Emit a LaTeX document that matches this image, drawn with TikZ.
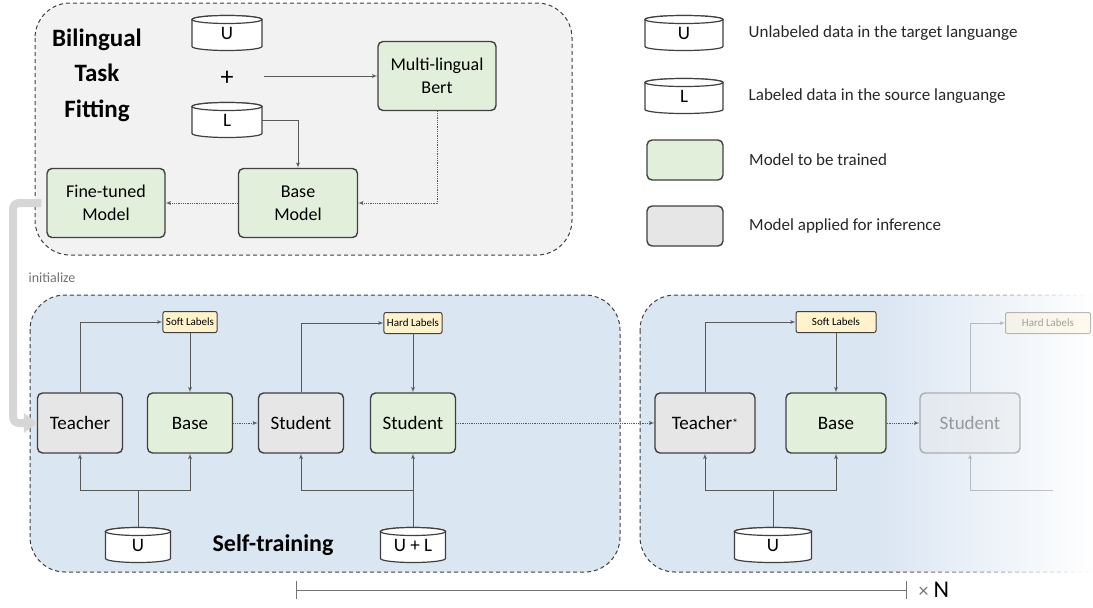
\documentclass[tikz,border=0pt]{standalone}
\usepackage{fontspec}
\setmainfont{Carlito}
\usetikzlibrary{arrows, arrows.meta, fadings, positioning}

\definecolor{bordergray}{HTML}{404040}
\definecolor{conngray}{HTML}{595959}
\definecolor{panelgray}{HTML}{F2F2F2}
\definecolor{panelblue}{HTML}{DBE6F3}
\definecolor{modelgreen}{HTML}{E2EFDA}
\definecolor{modelgray}{HTML}{E6E6E6}
\definecolor{labelyellow}{HTML}{FFF2CC}
\definecolor{initgray}{HTML}{D6D6D6}

\tikzfading[name=fade right, left color=transparent!100, right color=transparent!0]

\tikzset{
  panel/.style={draw=bordergray, dash pattern=on 4pt off 3pt, line width=1pt, rounded corners=35pt},
  model/.style={draw=bordergray, line width=1.4pt, rounded corners=5pt, align=center,
    font=\fontsize{19}{23}\selectfont},
  trained/.style={model, fill=modelgreen},
  applied/.style={model, fill=modelgray},
  dbline/.style={draw=bordergray, fill=white, line width=1.2pt},
  dbtext/.style={inner sep=0pt, minimum height=35pt, font=\fontsize{19}{23}\selectfont},
  labelbox/.style={draw=bordergray, fill=labelyellow, line width=1pt, rounded corners=2pt,
    font=\fontsize{11}{13}\selectfont, inner sep=3pt, minimum height=21pt},
  legendtext/.style={font=\fontsize{17}{20}\selectfont, text=black!85},
  conn/.style={draw=conngray, line width=0.8pt, -latex'},
  dotconn/.style={conn, densely dotted},
  faded/.style={opacity=0.35}
}

% data cylinder: name, centre, half width, text
\newcommand{\dbcylinder}[4]{%
  \draw[dbline] ([shift={(-#3,-13.5)}]#2) -- ([shift={(-#3,13.5)}]#2)
    arc[start angle=180, end angle=360, x radius=#3pt, y radius=4pt]
    -- ([shift={(#3,-13.5)}]#2)
    arc[start angle=0, end angle=180, x radius=#3pt, y radius=4pt] -- cycle;
  \draw[dbline] ([shift={(0,-13.5)}]#2) ellipse[x radius=#3pt, y radius=4pt];
  \node[dbtext, minimum width=2*#3pt] (#1) at (#2) {\raisebox{-3pt}{#4}};
}

\begin{document}
\begin{tikzpicture}[x=1pt, y=-1pt]
\useasboundingbox (0,0) rectangle (1093,608);
\clip (0,0) rectangle (1093,608);

% panels
\draw[panel, fill=panelgray] (35,3) rectangle (572,255);
\draw[panel, fill=panelblue] (30,295) rectangle (620,572);
\draw[panel, fill=panelblue] (640,295) rectangle (1150,572);
\fill[white, path fading=fade right] (880,285) rectangle (1093,580);

% bilingual task fitting
\node[font=\bfseries\fontsize{25}{35.5}\selectfont, align=center] (bititle) at (97,75) {Bilingual\\Task\\Fitting};
\dbcylinder{u1}{227,33}{35}{U}
\node[font=\fontsize{26}{26}\selectfont] (plus) at (227,78) {+};
\dbcylinder{l1}{227,120}{35}{L}
\node[trained, minimum width=118pt, minimum height=69pt, font=\fontsize{18}{23}\selectfont] (bert) at (437,76) {Multi-lingual\\Bert};
\node[trained, minimum width=119pt, minimum height=69pt, font=\fontsize{18}{23}\selectfont] (base1) at (298,203) {Base\\Model};
\node[trained, minimum width=118pt, minimum height=69pt, font=\fontsize{18}{23}\selectfont] (ft) at (106,203) {Fine-tuned\\Model};

\draw[conn] ([xshift=2pt]u1.east |- bert.west) -- (bert.west);
\draw[conn] (l1.east) -| (base1.north);
\draw[dotconn] (bert.south) |- (base1.east);
\draw[dotconn] (base1.west) -- (ft.east);

% legend
\dbcylinder{lgu}{684,33}{39}{U}
\node[legendtext, right=22pt of lgu] (lgutext) {Unlabeled data in the target languange};
\dbcylinder{lgl}{684,96}{39}{L}
\node[legendtext, right=22pt of lgl] (lgltext) {Labeled data in the source languange};
\node[trained, minimum width=76pt, minimum height=40pt] (lgtrain) at (685,160) {};
\node[legendtext, right=22pt of lgtrain] (lgtraintext) {Model to be trained};
\node[applied, minimum width=76pt, minimum height=40pt] (lginfer) at (685,226) {};
\node[legendtext, right=22pt of lginfer] (lginfertext) {Model applied for inference};

% self-training
\node[applied, minimum width=85pt, minimum height=60pt] (teach1) at (80,423) {Teacher};
\node[trained, minimum width=85pt, minimum height=60pt] (base2) at (190,423) {Base};
\node[applied, minimum width=85pt, minimum height=60pt] (stud1) at (301,423) {Student};
\node[trained, minimum width=85pt, minimum height=60pt] (stud2) at (413,423) {Student};
\node[labelbox] (soft1) at (190,322) {Soft Labels};
\node[labelbox] (hard1) at (413,323) {Hard Labels};
\dbcylinder{u2}{138,545}{32.5}{U}
\dbcylinder{ul}{413,545}{32.5}{U + L}
\node[font=\bfseries\fontsize{24}{24}\selectfont] (sttitle) at (273,545) {Self-training};
\coordinate (ujoin) at (138,490);
\coordinate (uljoin) at (413,490);

\draw[conn] (teach1.north) |- (soft1.west);
\draw[conn] (soft1.south) -- (base2.north);
\draw[dotconn] (base2.east) -- (stud1.west);
\draw[conn] (stud1.north) |- (hard1.west);
\draw[conn] (hard1.south) -- (stud2.north);
\draw[conn] (u2.north) -- (ujoin) -| (teach1.south);
\draw[conn] (ujoin) -| (base2.south);
\draw[conn] (ul.north) -- (stud2.south);
\draw[conn] (uljoin) -| (stud1.south);

% next round
\node[applied, minimum width=100pt, minimum height=60pt] (teach2) at (705,423) {Teacher\raisebox{2pt}{\fontsize{12}{12}\selectfont*}};
\node[trained, minimum width=100pt, minimum height=60pt] (base3) at (836,423) {Base};
\node[labelbox, minimum width=80pt] (soft2) at (836,322) {Soft Labels};
\dbcylinder{u3}{773,545}{38.5}{U}
\coordinate (u3join) at (773,490);
\node[applied, faded, minimum width=100pt, minimum height=60pt] (stud3) at (970,423) {Student};
\node[labelbox, faded, minimum width=85pt] (hard2) at (1048,323) {Hard Labels};
\coordinate (fadein) at (1053,490);

\draw[dotconn] (stud2.east) -- (teach2.west);
\draw[conn] (teach2.north) |- (soft2.west);
\draw[conn] (soft2.south) -- (base3.north);
\draw[dotconn] (base3.east) -- (stud3.west);
\draw[conn] (u3.north) -- (u3join) -| (teach2.south);
\draw[conn] (u3join) -| (base3.south);
\draw[conn, faded] (stud3.north) |- (hard2.west);
\draw[conn, faded] (fadein) -| (stud3.south);

% initialize
\coordinate (initbend) at (13,300);
\draw[initgray, line width=8pt, rounded corners=6pt]
  ([xshift=-5pt]ft.west) -| (initbend) |- ([xshift=-11pt]teach1.west);
\fill[initgray] ([xshift=-13pt, yshift=-10pt]teach1.west) -- ([xshift=0.5pt]teach1.west)
  -- ([xshift=-13pt, yshift=10pt]teach1.west) -- cycle;
\node[text=black!55, font=\fontsize{14}{14}\selectfont] (initlabel) at (52,278) {initialize};

% repeat
\coordinate (nstart) at (296,590);
\coordinate (nend) at (907,590);
\draw[black!55, line width=0.8pt, {Bar[width=18pt]}-{Bar[width=18pt]}] (nstart) -- (nend);
\node[font=\fontsize{24}{24}\selectfont, right=8pt of nend] (ntimes) {\textcolor{black!55}{\fontsize{20}{20}\selectfont ×}\hspace{5pt}N};
\end{tikzpicture}
\end{document}
